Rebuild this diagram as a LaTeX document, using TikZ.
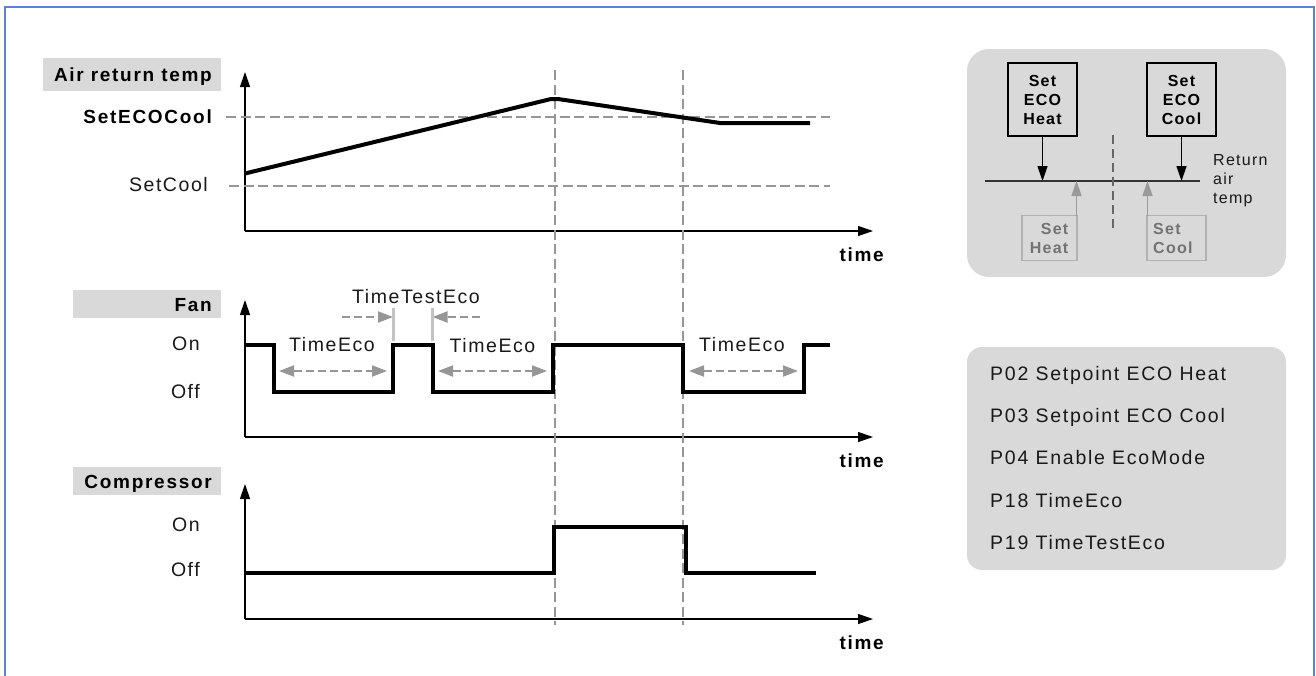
\documentclass[tikz,border=0pt]{standalone}
\usepackage{fontspec}
\setmainfont{Liberation Sans}
\newfontfamily\spc[LetterSpace=8]{Liberation Sans}
\newfontfamily\spb[LetterSpace=9]{Liberation Sans}
\usetikzlibrary{arrows.meta}
\definecolor{panel}{HTML}{D9D9D9}
\definecolor{dgray}{HTML}{969696}
\definecolor{frameblue}{HTML}{5B83D0}
\tikzset{x=1pt,y=-1pt,
 lab/.style={font=\fontsize{19.5}{22}\selectfont\spc,text=black!90,inner sep=0pt},
 par/.style={font=\fontsize{19.5}{22}\selectfont\spb,text=black!90,inner sep=0pt},
 blab/.style={font=\fontsize{19}{22}\selectfont\spb\bfseries,text=black,inner sep=0pt},
 small/.style={font=\fontsize{16}{19}\selectfont\spc\bfseries,inner sep=0pt,align=center},
 axis/.style={line width=1.2pt,-{Triangle[length=15pt,width=10pt]}},
 trace/.style={line width=4pt,black,line join=miter},
 guide/.style={line width=2pt,dgray,dash pattern=on 10pt off 4.5pt},
 span/.style={line width=2pt,dgray,dash pattern=on 8pt off 4pt},
 sp/.style={span,{Triangle[length=15pt,width=11pt]}-{Triangle[length=15pt,width=11pt]}},
 spr/.style={span,-{Triangle[length=15pt,width=11pt]}},
 head/.style={fill=panel,inner sep=0pt,text=black,font=\fontsize{19}{22}\selectfont\spb\bfseries},
 blackbox/.style={draw=black,line width=1.1pt,minimum width=69pt,minimum height=73pt,small,text=black},
 graybox/.style={draw=black!30,line width=1.2pt}
}
\begin{document}
\begin{tikzpicture}
\useasboundingbox (0,0) rectangle (1316,675);
\fill[white] (0,0) rectangle (1316,675);
% frame
\draw[frameblue,line width=2.5pt] (5,680) -- (5,7) -- (1314,7) -- (1314,680);
% headings
\fill[panel] (43,58) rectangle (221,91);
\node[head,anchor=base east] (h1) at (212,81) {Air return temp};
\fill[panel] (73,290) rectangle (221,318);
\node[head,anchor=base east] (h2) at (212,311) {Fan};
\fill[panel] (73,467) rectangle (221,495);
\node[head,anchor=base east] (h3) at (212,488) {Compressor};
% axes
\coordinate (o1) at (245,231); \coordinate (o2) at (245,437); \coordinate (o3) at (245,619);
\draw[axis] (o1) -- (245,72);
\draw[axis] (o1) -- (873,231);
\draw[axis] (o2) -- (245,300);
\draw[axis] (o2) -- (873,437);
\draw[axis] (o3) -- (245,484);
\draw[axis] (o3) -- (873,619);
\node[blab,anchor=base east] (t1) at (884,261) {time};
\node[blab,anchor=base east] (t2) at (884,467) {time};
\node[blab,anchor=base east] (t3) at (884,649) {time};
% reference levels
\draw[guide] (226,116.5) -- (830,116.5);
\draw[guide] (229,185.5) -- (830,185.5);
\node[blab,anchor=base east] (sec) at (212,123) {SetECOCool};
\node[lab,anchor=base east] (sc) at (208,191) {SetCool};
% vertical guides
\draw[guide] (554.5,70) -- (554.5,625);
\draw[guide] (682.5,70) -- (682.5,625);
% temp trace
\draw[trace] (245,173.5) -- (551,99) -- (558,99) -- (720,123) -- (810,123);
% fan
\draw[trace] (245,344.5) -- (273.5,344.5) -- (273.5,392) -- (393,392) -- (393,344.5) -- (432.5,344.5) -- (432.5,392) -- (553,392) -- (553,344.5) -- (683,344.5) -- (683,392) -- (804,392) -- (804,344.5) -- (830,344.5);
\node[lab,anchor=base] (f1) at (332,351) {TimeEco};
\node[lab,anchor=base] (f2) at (492.5,352) {TimeEco};
\node[lab,anchor=base] (f3) at (742,351) {TimeEco};
\node[lab,anchor=base] (tt) at (416,303) {TimeTestEco};
\draw[sp] (279,371) -- (387,371);
\draw[sp] (438,371) -- (547,371);
\draw[sp] (689,371) -- (798,371);
\coordinate (a1) at (342,317); \coordinate (b1) at (393,317);
\coordinate (a2) at (480,317); \coordinate (b2) at (432.5,317);
\draw[spr] (a1) -- (b1);
\draw[spr] (a2) -- (b2);
\draw[line width=3pt,panel!75!gray] (393,308) -- (393,341);
\draw[line width=3pt,panel!75!gray] (432.5,308) -- (432.5,341);
\node[lab,anchor=base east] (on1) at (200,350) {On};
\node[lab,anchor=base east] (off1) at (200,398) {Off};
% compressor
\draw[trace] (245,572.5) -- (553.5,572.5) -- (553.5,527) -- (686,527) -- (686,572.5) -- (816,572.5);
\node[lab,anchor=base east] (on2) at (200,531) {On};
\node[lab,anchor=base east] (off2) at (200,576) {Off};
% panel top right
\fill[panel] (967,49) [rounded corners=22pt] rectangle (1286,277);
\node[blackbox] (seh) at (1042.5,99.5) {Set\\ECO\\Heat};
\node[blackbox] (sec2) at (1181.5,99.5) {Set\\ECO\\Cool};
\coordinate (l1) at (985,181); \coordinate (l2) at (1200,181);
\draw[line width=1.2pt,black!80] (l1) -- (l2);
\coordinate (p1) at (1042.5,181); \coordinate (p2) at (1181.5,181);
\draw[line width=1.2pt,-{Triangle[length=15pt,width=10pt]}] (seh.south) -- (p1);
\draw[line width=1.2pt,-{Triangle[length=15pt,width=10pt]}] (sec2.south) -- (p2);
\draw[line width=1.5pt,black!60,dash pattern=on 9pt off 5pt] (1113,135) -- (1113,228);
\node[graybox,minimum width=55pt,minimum height=45pt] (sh) at (1049.5,238) {};
\node[small,text=black!55,align=right,anchor=east] (sht) at (1068.5,238) {Set\\Heat};
\node[graybox,minimum width=59pt,minimum height=45pt] (sc2) at (1176.5,238) {};
\node[small,text=black!55,align=left,anchor=west] (sct) at (1153,238) {Set\\Cool};
\coordinate (q1) at (1076.5,181); \coordinate (q2) at (1147.5,181);
\draw[line width=1.2pt,black!40,-{Triangle[length=15pt,width=10pt]}] (1076.5,216) -- (q1);
\draw[line width=1.2pt,black!40,-{Triangle[length=15pt,width=10pt]}] (1147.5,216) -- (q2);
\node[inner sep=0pt,anchor=west,align=left,font=\fontsize{16}{19}\selectfont\spc,text=black!90] (rat) at (1213,181) {Return\\air\\temp};
% parameter panel
\fill[panel] (967,347) [rounded corners=15pt] rectangle (1286,570);
\foreach \n/\yy/\t in {a/380/P02 Setpoint ECO Heat,b/422/P03 Setpoint ECO Cool,c/464/P04 Enable EcoMode,d/507/P18 TimeEco,e/549/P19 TimeTestEco}{
 \node[par,anchor=base west] (par\n) at (990,\yy) {\t};
}
\end{tikzpicture}
\end{document}
